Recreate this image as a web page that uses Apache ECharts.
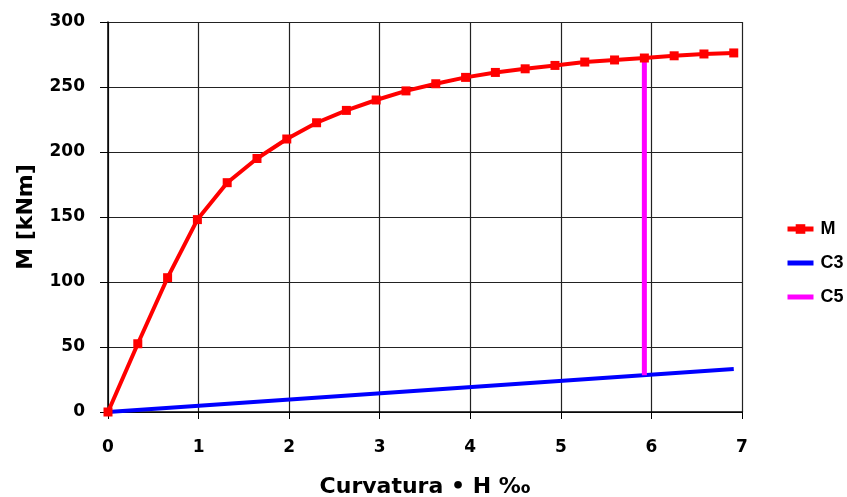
<!DOCTYPE html>
<html>
<head>
<meta charset="utf-8">
<script src="https://cdn.jsdelivr.net/npm/echarts@6/dist/echarts.min.js"></script>
<style>
  html, body { margin: 0; padding: 0; background: #fff; }
  #chart { width: 847px; height: 497px; }
</style>
</head>
<body>
<div id="chart"></div>
<script>
// curva momento-curvatura
const curvM = [0, 0.329, 0.658, 0.987, 1.316, 1.645, 1.974, 2.303, 2.632, 2.961, 3.29,
  3.619, 3.948, 4.277, 4.606, 4.935, 5.264, 5.593, 5.922, 6.251, 6.58, 6.909];
const valM = [0, 52.5, 103.3, 148, 176.4, 195, 210, 222.5, 232, 240, 247,
  252.5, 257.4, 261.2, 264, 266.6, 269.2, 270.8, 272.3, 274, 275.4, 276.2];
const curvC3 = [0, 6.909];
const valC3 = [0, 33];
const curvC5 = [5.922, 5.922];
const valC5 = [28.3, 272.3];
const seriesNames = ['M', 'C3', 'C5'];

const chart = echarts.init(document.getElementById('chart'));
const pair = (xs, ys) => xs.map((x, i) => [x, ys[i]]);
const font = 'DejaVu Sans, sans-serif';
const legendFont = 'Liberation Sans, Arial, sans-serif';

chart.setOption({
  animation: false,
  grid: { left: 108, right: 105, top: 22, bottom: 85, outerBoundsMode: 'none' },
  legend: {
    orient: 'vertical',
    left: 785,
    top: 220,
    padding: 0,
    itemGap: 16,
    itemWidth: 26,
    itemHeight: 12,
    lineStyle: { width: 5 },
    data: [
      { name: seriesNames[0] },
      { name: seriesNames[1], itemStyle: { opacity: 0 } },
      { name: seriesNames[2], itemStyle: { opacity: 0 } }
    ],
    textStyle: { fontFamily: legendFont, fontWeight: 'bold', fontSize: 18, color: '#000', padding: [0, 0, 0, 2] }
  },
  xAxis: {
    type: 'value',
    min: 0, max: 7, interval: 1,
    name: 'Curvatura • H ‰',
    nameLocation: 'middle',
    nameGap: 64,
    nameTextStyle: { fontFamily: font, fontWeight: 'bold', fontSize: 22, color: '#000' },
    axisLine: { lineStyle: { color: '#000', width: 1.5 } },
    axisTick: { show: true, length: 7, lineStyle: { color: '#000' } },
    axisLabel: { fontFamily: font, fontWeight: 'bold', fontSize: 17, color: '#000', margin: 27 },
    splitLine: { lineStyle: { color: '#222', width: 1.2 } }
  },
  yAxis: {
    type: 'value',
    min: 0, max: 300, interval: 50,
    name: 'M [kNm]',
    nameLocation: 'middle',
    nameGap: 71,
    nameTextStyle: { fontFamily: font, fontWeight: 'bold', fontSize: 22, color: '#000' },
    axisLine: { show: true, lineStyle: { color: '#000', width: 1.5 } },
    axisTick: { show: true, length: 8, lineStyle: { color: '#000' } },
    axisLabel: { fontFamily: font, fontWeight: 'bold', fontSize: 17, color: '#000', margin: 23 },
    splitLine: { lineStyle: { color: '#222', width: 1.2 } }
  },
  series: [
    {
      name: 'M',
      type: 'line',
      data: pair(curvM, valM),
      symbol: 'rect',
      symbolSize: 9,
      itemStyle: { color: '#ff0000' },
      lineStyle: { color: '#ff0000', width: 4 },
      z: 3
    },
    {
      name: 'C3',
      type: 'line',
      data: pair(curvC3, valC3),
      symbol: 'none',
      itemStyle: { color: '#0000ff' },
      lineStyle: { color: '#0000ff', width: 4 },
      z: 2
    },
    {
      name: 'C5',
      type: 'line',
      data: pair(curvC5, valC5),
      symbol: 'none',
      itemStyle: { color: '#ff00ff' },
      lineStyle: { color: '#ff00ff', width: 5 },
      z: 2
    }
  ]
});
</script>
</body>
</html>
